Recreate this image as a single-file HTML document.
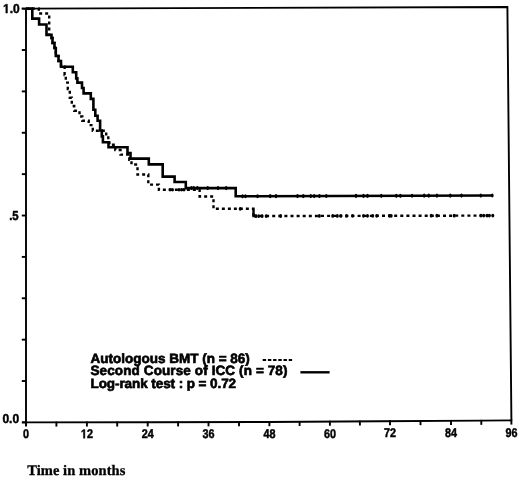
<!DOCTYPE html>
<html><head><meta charset="utf-8"><style>
html,body{margin:0;padding:0;background:#fff;}
body{width:520px;height:478px;overflow:hidden;}
svg{display:block;filter:grayscale(1);}
text{text-rendering:geometricPrecision;}
.ax text, .ax path{font-family:"Liberation Sans",sans-serif;font-weight:bold;font-size:12px;fill:#000;stroke:#000;stroke-width:0.45px;}
.lg text{font-family:"Liberation Sans",sans-serif;font-weight:bold;font-size:13.5px;fill:#000;stroke:#000;stroke-width:0.65px;}
.tt{font-family:"Liberation Serif",serif;font-weight:bold;font-size:14.5px;fill:#000;stroke:#000;stroke-width:0.3px;}
</style></head><body>
<svg width="520" height="478" viewBox="0 0 520 478">
<g stroke="#000" stroke-width="1.9" fill="none">
<path d="M21.8,8.65 L507.4,7.0 L511.4,420.4"/>
<path d="M22,422.4 L150,422.3 L268,422.0 L380,421.2 L481,420.65 L511.4,420.4"/>
<path d="M26,8 V426"/>
<line x1="26.0" y1="421.60" x2="26.0" y2="426.60" /><line x1="56.4" y1="421.57" x2="56.4" y2="426.57" /><line x1="86.9" y1="421.55" x2="86.9" y2="426.55" /><line x1="117.2" y1="421.53" x2="117.2" y2="426.53" /><line x1="147.7" y1="421.50" x2="147.7" y2="426.50" /><line x1="178.1" y1="421.43" x2="178.1" y2="426.43" /><line x1="208.5" y1="421.35" x2="208.5" y2="426.35" /><line x1="239.0" y1="421.27" x2="239.0" y2="426.27" /><line x1="269.4" y1="421.19" x2="269.4" y2="426.19" /><line x1="299.6" y1="420.97" x2="299.6" y2="425.97" /><line x1="329.9" y1="420.76" x2="329.9" y2="425.76" /><line x1="359.9" y1="420.54" x2="359.9" y2="425.54" /><line x1="390.0" y1="420.35" x2="390.0" y2="425.35" /><line x1="420.5" y1="420.18" x2="420.5" y2="425.18" /><line x1="451.0" y1="420.01" x2="451.0" y2="425.01" /><line x1="481.3" y1="419.85" x2="481.3" y2="424.85" /><line x1="511.4" y1="419.60" x2="511.4" y2="424.60" /><line x1="21.8" y1="422.40" x2="26" y2="422.40" /><line x1="21.8" y1="381.02" x2="26" y2="381.02" /><line x1="21.8" y1="339.65" x2="26" y2="339.65" /><line x1="21.8" y1="298.27" x2="26" y2="298.27" /><line x1="21.8" y1="256.90" x2="26" y2="256.90" /><line x1="21.8" y1="215.52" x2="26" y2="215.52" /><line x1="21.8" y1="174.15" x2="26" y2="174.15" /><line x1="21.8" y1="132.77" x2="26" y2="132.77" /><line x1="21.8" y1="91.40" x2="26" y2="91.40" /><line x1="21.8" y1="50.02" x2="26" y2="50.02" /><line x1="21.8" y1="8.65" x2="26" y2="8.65" />
</g>
<g class="ax">
<g transform="translate(3,13.1) scale(1,1.08)"><path d="M2.801,0.000 L2.801,-6.855 L0.820,-5.619 L0.820,-6.914 L2.889,-8.256 L4.447,-8.256 L4.447,0.000Z"/><text x="6.674" y="0">.0</text></g>
<text transform="translate(9.2,220.0) scale(0.95,1.08)">.5</text>
<text transform="translate(2.4,423.2) scale(1,1.08)">0.0</text>
<text transform="translate(26.0,438.40) scale(0.9,1.05)" text-anchor="middle">0</text><g transform="translate(86.9,438.24) scale(0.9,1.05)"><path d="M2.801,0.000 L2.801,-6.855 L0.820,-5.619 L0.820,-6.914 L2.889,-8.256 L4.447,-8.256 L4.447,0.000Z" transform="translate(-6.674,0)"/><text x="0.000" y="0">2</text></g><text transform="translate(147.7,438.07) scale(0.9,1.05)" text-anchor="middle">24</text><text transform="translate(208.5,437.91) scale(0.9,1.05)" text-anchor="middle">36</text><text transform="translate(269.4,437.75) scale(0.9,1.05)" text-anchor="middle">48</text><text transform="translate(329.9,437.59) scale(0.9,1.05)" text-anchor="middle">60</text><text transform="translate(390.0,437.42) scale(0.9,1.05)" text-anchor="middle">72</text><text transform="translate(451.0,437.26) scale(0.9,1.05)" text-anchor="middle">84</text><text transform="translate(511.4,437.10) scale(0.9,1.05)" text-anchor="middle">96</text>
</g>
<path d="M26,8.65 H32.3 V18.6 H39.1 V24.5 H46.5 V34.9 H51.5 V38 H52.5 V43 H54.5 V48 H55.8 V56 H58.5 V61 H61 V66.7 H72.8 V72.2 H76.2 V78.4 H77.4 V82.6 H82 V88 H83.6 V93.4 H90.8 V98.9 H93.4 V109.8 H95.3 V115.7 H97.6 V120.7 H100.1 V130.5 H101.8 V136.4 H102.9 V142.2 H108.5 V147.2 H127.5 V153 H130.5 V158.6 H148.8 V164.4 H162.7 V176.6 H174.6 V182 H185.8 V188.1 H235.7 V196.3 L493,195.5" stroke="#000" stroke-width="2.6" fill="none"/>
<path d="M26,8.65 H38.8 V13.5 H49.2 V34.9 H51.5 V38 H52.5 V43 H54.5 V48 H55.8 V56 H58.5 V61 H61 V66.7 H64.6 V75 H65.8 V82.6 H67.8 V89 H69.8 V97.7 H71.8 V106 H74.2 V110.7 H79.5 V116.5 H82.3 V120.7 H88.7 V125.1 H92.8 V130.8 H106.2 V135.8 H108.3 V140 H109.4 V144.8 H115.3 V150 H120.5 V154.6 H129.3 V159.8 H131.5 V164.5 H137.5 V174.5 H148.3 V184.6 H158.9 V189.8 H199.6 V196.5 H213.5 V208.8 H253.5 V216" stroke="#000" stroke-width="2.4" fill="none" stroke-dasharray="3 3"/>
<path d="M253.7,216.05 L494,215.6" stroke="#000" stroke-width="2.4" fill="none" stroke-dasharray="3 3.1" stroke-dashoffset="5.9"/>
<path d="M253.5,209.8 V216 H256.5" stroke="#000" stroke-width="2.4" fill="none"/>
<g fill="#000"><ellipse cx="242.5" cy="196.28" rx="1.3" ry="2.1"/><ellipse cx="245.4" cy="196.27" rx="1.3" ry="2.1"/><ellipse cx="257.5" cy="196.23" rx="1.3" ry="2.1"/><ellipse cx="270.2" cy="196.19" rx="1.3" ry="2.1"/><ellipse cx="276" cy="196.17" rx="1.3" ry="2.1"/><ellipse cx="297.5" cy="196.11" rx="1.3" ry="2.1"/><ellipse cx="303.3" cy="196.09" rx="1.3" ry="2.1"/><ellipse cx="310.8" cy="196.07" rx="1.3" ry="2.1"/><ellipse cx="314.2" cy="196.06" rx="1.3" ry="2.1"/><ellipse cx="319.4" cy="196.04" rx="1.3" ry="2.1"/><ellipse cx="326.3" cy="196.02" rx="1.3" ry="2.1"/><ellipse cx="356" cy="195.93" rx="1.3" ry="2.1"/><ellipse cx="363.5" cy="195.90" rx="1.3" ry="2.1"/><ellipse cx="367.5" cy="195.89" rx="1.3" ry="2.1"/><ellipse cx="381.3" cy="195.85" rx="1.3" ry="2.1"/><ellipse cx="396.3" cy="195.80" rx="1.3" ry="2.1"/><ellipse cx="400.4" cy="195.79" rx="1.3" ry="2.1"/><ellipse cx="412.1" cy="195.75" rx="1.3" ry="2.1"/><ellipse cx="424.2" cy="195.71" rx="1.3" ry="2.1"/><ellipse cx="428.8" cy="195.70" rx="1.3" ry="2.1"/><ellipse cx="436.9" cy="195.67" rx="1.3" ry="2.1"/><ellipse cx="450.3" cy="195.63" rx="1.3" ry="2.1"/><ellipse cx="461.5" cy="195.60" rx="1.3" ry="2.1"/><ellipse cx="480.8" cy="195.54" rx="1.3" ry="2.1"/><ellipse cx="492.3" cy="195.50" rx="1.3" ry="2.1"/><ellipse cx="191.5" cy="188.1" rx="1.3" ry="2.1"/><ellipse cx="193.8" cy="188.1" rx="1.3" ry="2.1"/><ellipse cx="197.3" cy="188.1" rx="1.3" ry="2.1"/><ellipse cx="207.7" cy="188.1" rx="1.3" ry="2.1"/><ellipse cx="218" cy="188.1" rx="1.3" ry="2.1"/><ellipse cx="226.2" cy="188.1" rx="1.3" ry="2.1"/><ellipse cx="256" cy="216.05" rx="1.5" ry="1.9"/><ellipse cx="258.7" cy="216.04" rx="1.5" ry="1.9"/><ellipse cx="262.1" cy="216.03" rx="1.5" ry="1.9"/><ellipse cx="266.2" cy="216.03" rx="1.5" ry="1.9"/><ellipse cx="280.6" cy="216.00" rx="1.5" ry="1.9"/><ellipse cx="319.4" cy="215.93" rx="1.5" ry="1.9"/><ellipse cx="332.7" cy="215.90" rx="1.5" ry="1.9"/><ellipse cx="337.3" cy="215.89" rx="1.5" ry="1.9"/><ellipse cx="340.8" cy="215.89" rx="1.5" ry="1.9"/><ellipse cx="346.5" cy="215.88" rx="1.5" ry="1.9"/><ellipse cx="352.5" cy="215.86" rx="1.5" ry="1.9"/><ellipse cx="363.5" cy="215.84" rx="1.5" ry="1.9"/><ellipse cx="367.5" cy="215.84" rx="1.5" ry="1.9"/><ellipse cx="372.7" cy="215.83" rx="1.5" ry="1.9"/><ellipse cx="376.7" cy="215.82" rx="1.5" ry="1.9"/><ellipse cx="389.4" cy="215.80" rx="1.5" ry="1.9"/><ellipse cx="391.2" cy="215.79" rx="1.5" ry="1.9"/><ellipse cx="431.2" cy="215.72" rx="1.5" ry="1.9"/><ellipse cx="436.9" cy="215.71" rx="1.5" ry="1.9"/><ellipse cx="454.2" cy="215.67" rx="1.5" ry="1.9"/><ellipse cx="480.8" cy="215.62" rx="1.5" ry="1.9"/><ellipse cx="483.7" cy="215.62" rx="1.5" ry="1.9"/><ellipse cx="487" cy="215.61" rx="1.5" ry="1.9"/><ellipse cx="489.4" cy="215.61" rx="1.5" ry="1.9"/><ellipse cx="492.8" cy="215.60" rx="1.5" ry="1.9"/><ellipse cx="170" cy="189.8" rx="1.5" ry="1.7"/><ellipse cx="172.5" cy="189.8" rx="1.5" ry="1.7"/><ellipse cx="179" cy="189.8" rx="1.5" ry="1.7"/><ellipse cx="181.5" cy="189.8" rx="1.5" ry="1.7"/><ellipse cx="184" cy="189.8" rx="1.5" ry="1.7"/><ellipse cx="240.2" cy="208.8" rx="1.5" ry="1.9"/></g>
<g class="lg">
<text x="90.5" y="362.5">Autologous BMT (n = 86)</text>
<text x="90.5" y="375.3" letter-spacing="0.11">Second Course of ICC (n = 78)</text>
<text x="90.5" y="388" letter-spacing="-0.08">Log-rank test : p = 0.72</text>
</g>
<line x1="262.7" y1="360" x2="292.2" y2="360" stroke="#000" stroke-width="2" stroke-dasharray="3.4 1.8"/>
<line x1="300.4" y1="372.3" x2="329.6" y2="372.3" stroke="#000" stroke-width="2.4"/>
<text class="tt" x="27.2" y="475.3" letter-spacing="0.07">Time in months</text>
</svg>
</body></html>
